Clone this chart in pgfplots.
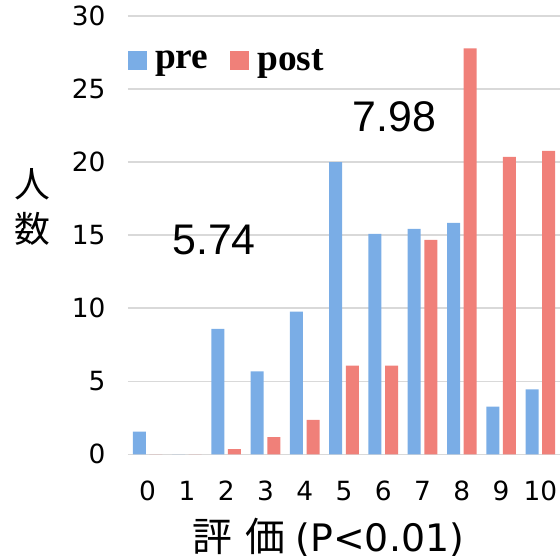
\documentclass[border=0pt]{standalone}
\usepackage{pgfplots}
\pgfplotsset{compat=1.18}
\usepackage{fontspec}
\setmainfont{Noto Sans CJK JP}
\newfontfamily\legfont{Liberation Serif}
\newfontfamily\numfont{Liberation Sans}
\newfontfamily\tickfont{DejaVu Sans}
\definecolor{preblue}{HTML}{7AADE6}
\definecolor{postred}{HTML}{F08079}
\definecolor{gridgray}{HTML}{D9D9D9}
\begin{document}
\begin{tikzpicture}
\useasboundingbox (-128bp,-104.7bp) rectangle (432bp,454.3bp);
\begin{axis}[
  scale only axis, width=432bp, height=438.3bp,
  xmin=-0.5, xmax=10.5, ymin=0, ymax=30,
  xtick={0,...,10}, ytick={0,5,...,30},
  ymajorgrids, grid style={draw=gridgray, line width=1.5bp},
  axis line style={draw=none}, major tick length=0pt,
  ybar, bar width=13bp,
  /pgf/number format/assume math mode=true,
  tick label style={font=\tickfont\fontsize{26.5}{30}\selectfont},
  xticklabel style={anchor=base, yshift=-46bp},
  yticklabel style={anchor=east, xshift=-19bp},
  every axis x label/.style={at={(axis description cs:0.463,0)}, anchor=center, yshift=-82.7bp, font=\fontsize{40}{44}\selectfont},
  every axis y label/.style={at={(axis description cs:0,0.564)}, anchor=center, xshift=-96bp, align=center, font=\fontsize{36}{45}\selectfont},
  xlabel={評\hspace{0.35em}価\hspace{0.25em}{\tickfont\fontsize{38}{44}\selectfont(P<0.01)}},
  ylabel={人\\数},
  legend style={at={(axis description cs:0,1)}, anchor=north west, draw=none, fill=none, legend columns=-1,
    inner sep=0pt, yshift=-31bp,
    font=\legfont\bfseries\fontsize{37.5}{40}\selectfont,
    /tikz/every odd column/.append style={column sep=6bp},
    /tikz/every even column/.append style={column sep=20bp}},
  legend image code/.code={\fill[#1] (0bp,-9.5bp) rectangle (19bp,9.5bp);},
]
\addplot[fill=preblue, draw=none, bar shift=-8.3bp] coordinates {
  (0,1.55) (1,0) (2,8.58) (3,5.68) (4,9.77) (5,20.0) (6,15.09) (7,15.43) (8,15.84) (9,3.26) (10,4.45)};
\addplot[fill=postred, draw=none, bar shift=8.3bp] coordinates {
  (0,0) (1,0) (2,0.36) (3,1.18) (4,2.35) (5,6.07) (6,6.07) (7,14.68) (8,27.78) (9,20.36) (10,20.77)};
\legend{pre, post}
\node[font=\numfont\fontsize{43}{48}\selectfont] at (axis cs:1.69,14.68) {5.74};
\node[font=\numfont\fontsize{43}{48}\selectfont] at (axis cs:6.28,23.07) {7.98};
\end{axis}
\end{tikzpicture}
\end{document}
